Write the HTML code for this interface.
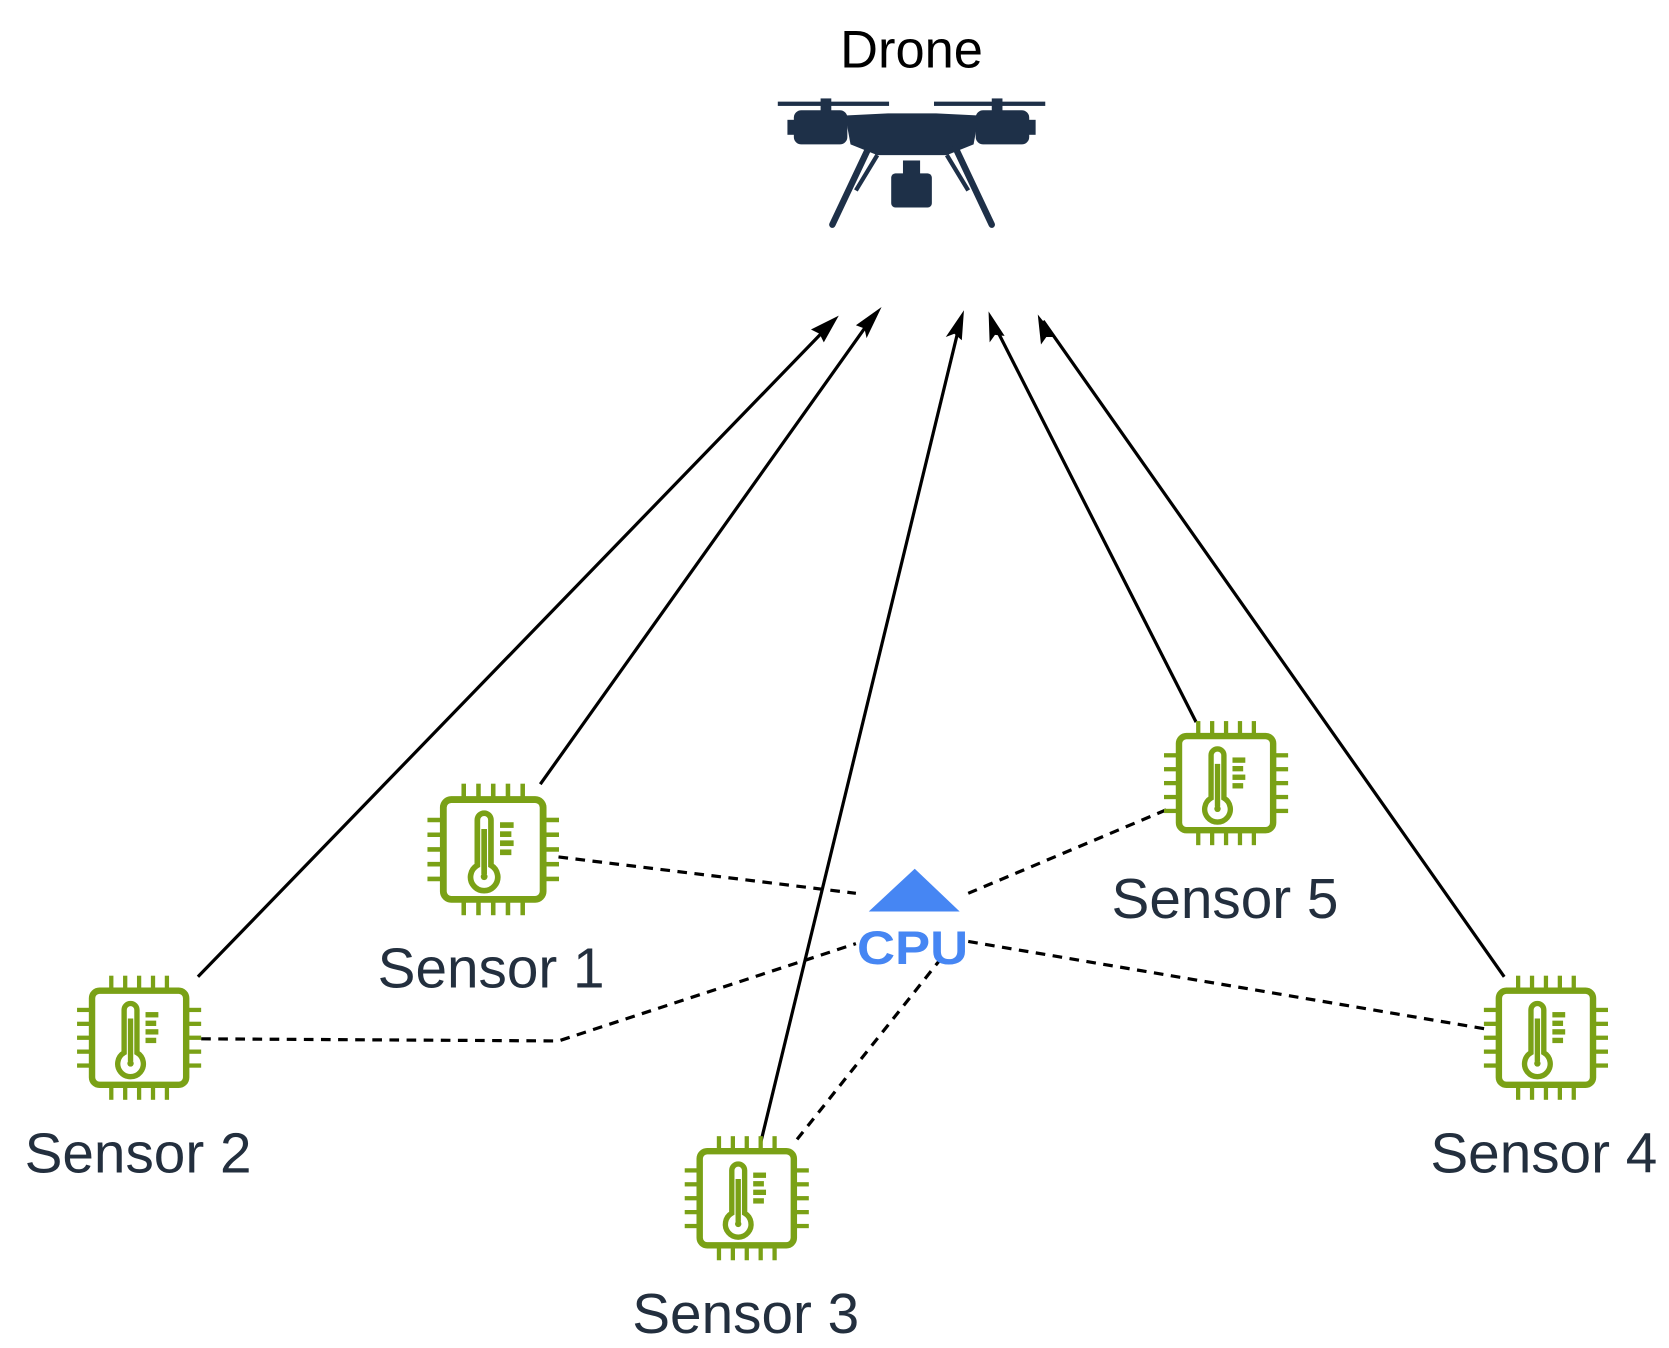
<!DOCTYPE html>
<html><head><meta charset="utf-8"><style>
html,body{margin:0;padding:0;background:#fff;}
svg{display:block;}
text{font-family:"Liberation Sans",sans-serif;}
</style></head><body>
<svg width="1669" height="1348" viewBox="0 0 1560 1260" xmlns="http://www.w3.org/2000/svg">
<defs>
<g id="chip">
 <rect x="-44" y="-44" width="88" height="88" rx="7" fill="none" stroke="#7aa116" stroke-width="6"/>
 <g stroke="#7aa116" stroke-width="4">
  <line x1="-26" y1="-44" x2="-26" y2="-58"/><line x1="-13" y1="-44" x2="-13" y2="-58"/><line x1="0" y1="-44" x2="0" y2="-58"/><line x1="13" y1="-44" x2="13" y2="-58"/><line x1="26" y1="-44" x2="26" y2="-58"/>
  <line x1="-26" y1="44" x2="-26" y2="58"/><line x1="-13" y1="44" x2="-13" y2="58"/><line x1="0" y1="44" x2="0" y2="58"/><line x1="13" y1="44" x2="13" y2="58"/><line x1="26" y1="44" x2="26" y2="58"/>
  <line x1="-44" y1="-26" x2="-58" y2="-26"/><line x1="-44" y1="-13" x2="-58" y2="-13"/><line x1="-44" y1="0" x2="-58" y2="0"/><line x1="-44" y1="13" x2="-58" y2="13"/><line x1="-44" y1="26" x2="-58" y2="26"/>
  <line x1="44" y1="-26" x2="58" y2="-26"/><line x1="44" y1="-13" x2="58" y2="-13"/><line x1="44" y1="0" x2="58" y2="0"/><line x1="44" y1="13" x2="58" y2="13"/><line x1="44" y1="26" x2="58" y2="26"/>
 </g>
 <path d="M-14,14 V-26 a6,6 0 0 1 12,0 V14 a12,12 0 1 1 -12,0 z" fill="none" stroke="#7aa116" stroke-width="5"/>
 <line x1="-8" y1="-18" x2="-8" y2="22" stroke="#7aa116" stroke-width="5"/>
 <circle cx="-8" cy="24" r="3" fill="#7aa116"/>
 <g fill="#7aa116"><rect x="6" y="-24" width="12" height="5"/><rect x="6" y="-16" width="10" height="5"/><rect x="6" y="-8" width="12" height="5"/><rect x="6" y="0" width="10" height="5"/></g>
</g>
</defs>

<text x="852" y="63" font-size="49" text-anchor="middle" fill="#000">Drone</text>
<g fill="#1e3048" stroke="#1e3048">
 <rect x="727" y="95" width="104" height="4" stroke="none"/>
 <rect x="873" y="95" width="104" height="4" stroke="none"/>
 <rect x="767" y="92" width="10" height="12" stroke="none"/>
 <rect x="927" y="92" width="10" height="12" stroke="none"/>
 <rect x="742" y="103" width="50" height="32" rx="7" stroke="none"/>
 <rect x="912" y="103" width="50" height="32" rx="7" stroke="none"/>
 <rect x="736" y="112" width="10" height="14" stroke="none"/>
 <rect x="958" y="112" width="10" height="14" stroke="none"/>
 <path d="M790,108 L830,106 L875,106 L915,108 L910,135 L885,145 L820,145 L795,135 Z" stroke="none"/>
 <rect x="844" y="150" width="16" height="14" stroke="none"/>
 <rect x="833" y="162" width="38" height="32" rx="4" stroke="none"/>
 <path d="M812,138 L778,210" fill="none" stroke-width="6" stroke-linecap="round"/>
 <path d="M893,138 L927,210" fill="none" stroke-width="6" stroke-linecap="round"/>
 <path d="M820,145 L800,178" fill="none" stroke-width="4"/>
 <path d="M885,145 L905,178" fill="none" stroke-width="4"/>
</g>

<g stroke="#000" stroke-width="3" fill="none">
 <line x1="185" y1="913" x2="778" y2="301"/>
 <line x1="505" y1="733" x2="818" y2="293"/>
 <line x1="711" y1="1068" x2="898" y2="299"/>
 <line x1="1118" y1="675" x2="927" y2="299"/>
 <line x1="1406" y1="913" x2="975" y2="300"/>
</g>
<g fill="#000">
 <polygon points="784,295 758,308 766,312 770,320" />
 <polygon points="824,287 800,304 808,307 810,316" />
 <polygon points="901,290 884,315 892,312 899,318" />
 <polygon points="924,291 925,320 930,313 939,314" />
 <polygon points="970,294 973,322 978,315 987,315" />
</g>

<g stroke="#000" stroke-width="3" fill="none" stroke-dasharray="9,7">
 <line x1="522" y1="801" x2="800" y2="835"/>
 <line x1="1090" y1="757" x2="905" y2="835"/>
 <polyline points="188,971 522,973 800,882"/>
 <line x1="745" y1="1065" x2="878" y2="898"/>
 <line x1="905" y1="880" x2="1390" y2="962"/>
</g>

<polygon points="855,812 812,852 897,852" fill="#4686f3"/>
<text x="853" y="901" font-size="44" font-weight="bold" text-anchor="middle" fill="#4686f3" font-family="Liberation Mono, monospace" textLength="104" lengthAdjust="spacingAndGlyphs">CPU</text>

<use href="#chip" transform="translate(461,794) scale(1.06)"/>
<use href="#chip" transform="translate(130,970)"/>
<use href="#chip" transform="translate(698,1120)"/>
<use href="#chip" transform="translate(1146,732)"/>
<use href="#chip" transform="translate(1445,970)"/>

<g font-size="53" fill="#232f3e" text-anchor="middle">
 <text x="459" y="923">Sensor 1</text>
 <text x="129" y="1096">Sensor 2</text>
 <text x="697" y="1246">Sensor 3</text>
 <text x="1443" y="1096">Sensor 4</text>
 <text x="1145" y="858">Sensor 5</text>
</g>
</svg>
</body></html>
